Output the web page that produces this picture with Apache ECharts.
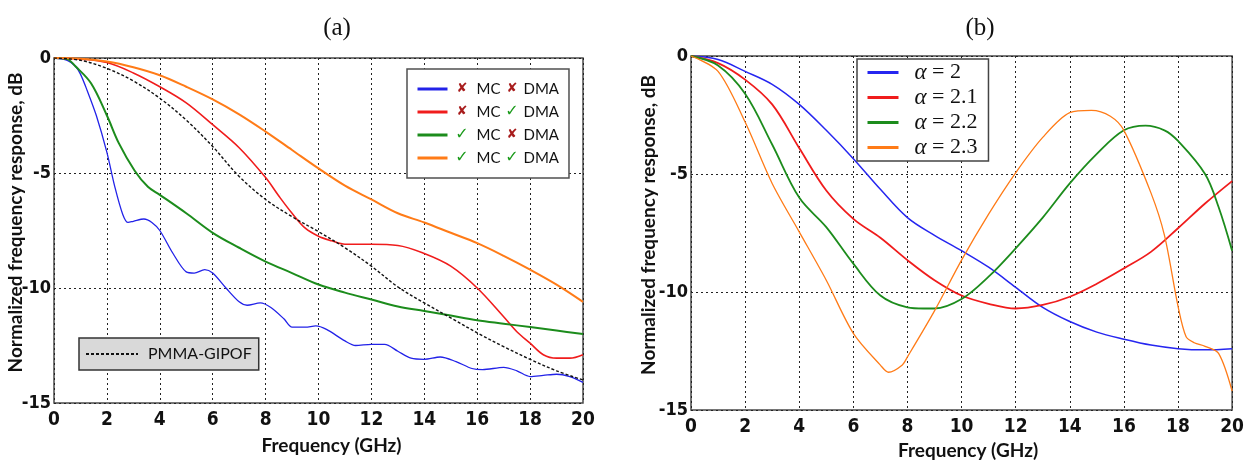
<!DOCTYPE html>
<html>
<head>
<meta charset="utf-8">
<script src="https://cdn.jsdelivr.net/npm/echarts@6/dist/echarts.min.js"></script>
<style>
html,body{margin:0;padding:0;background:#fff;}
#chart{width:1247px;height:465px;}
</style>
</head>
<body>
<div id="chart"></div>
<script>
// ---------- Data: panel (a) ----------
const xTicks = [0,2,4,6,8,10,12,14,16,18,20];
const yTicks = [0,-5,-10,-15];

const aBlueX = [0,0.5,0.8,1.0,1.25,1.6,2.0,2.3,2.6,2.8,3.0,3.4,3.7,4.0,4.5,5.0,5.3,5.7,6.0,6.5,7.0,7.3,7.8,8.2,8.7,9.0,9.5,9.9,10.3,11.0,11.4,12.0,12.5,13.0,13.5,14.0,14.6,15.2,15.8,16.2,17.0,17.5,18.0,18.5,19.0,19.5,20.0];
const aBlueY = [0,-0.1,-0.35,-0.7,-1.4,-2.5,-4.1,-5.6,-6.8,-7.15,-7.1,-7.0,-7.15,-7.5,-8.5,-9.3,-9.35,-9.2,-9.35,-10.0,-10.6,-10.75,-10.65,-10.85,-11.35,-11.7,-11.7,-11.65,-11.8,-12.3,-12.5,-12.45,-12.45,-12.75,-13.05,-13.1,-13.0,-13.2,-13.5,-13.55,-13.45,-13.6,-13.85,-13.8,-13.75,-13.85,-14.1];

const aRedX = [0,1,2,3,4,5,6,7,8,8.5,9,9.5,10,10.5,11,12,13,14,15,16,17,17.5,18,18.5,19,19.5,20];
const aRedY = [0,-0.05,-0.2,-0.65,-1.25,-1.95,-2.9,-3.9,-5.2,-6.0,-6.75,-7.4,-7.75,-7.95,-8.1,-8.1,-8.15,-8.5,-9.05,-10.0,-11.25,-11.9,-12.4,-12.9,-13.05,-13.05,-12.9];

const aGreenX = [0,0.5,0.8,1.4,2.0,2.45,3.05,3.55,4,5,6,7,8,9,10,11,12,13,14,15,16,17,18,19,20];
const aGreenY = [0,-0.05,-0.35,-1.1,-2.5,-3.7,-4.9,-5.6,-5.95,-6.75,-7.6,-8.25,-8.85,-9.35,-9.85,-10.2,-10.5,-10.8,-11.0,-11.2,-11.4,-11.55,-11.7,-11.85,-12.0];

const aOrangeX = [0,1,2,3,4,5,6,7,8,9,10,11,12,13,14,15,16,17,18,19,20];
const aOrangeY = [0,-0.03,-0.15,-0.4,-0.75,-1.25,-1.8,-2.45,-3.2,-4.0,-4.8,-5.55,-6.15,-6.75,-7.15,-7.6,-8.05,-8.6,-9.2,-9.85,-10.6];

const aFiberX = [0,1,2,3,4,5,6,7,8,9,10,11,12,13,14,15,16,17,18,19,20];
const aFiberY = [0,-0.1,-0.45,-1.0,-1.75,-2.7,-3.85,-5.15,-6.15,-6.9,-7.55,-8.25,-9.05,-9.95,-10.65,-11.3,-11.95,-12.55,-13.1,-13.6,-14.0];

const aNames = ['noMC-noDMA','noMC-DMA','MC-noDMA','MC-DMA'];
const aMarks = [['x','x'],['x','v'],['v','x'],['v','v']];
const fiberName = 'PMMA-GIPOF';

// ---------- Data: panel (b) ----------
const bBlueX = [0,1,2,3,4,5,6,7,8,9,10,11,12,13,14,15,16,17,18,19,20];
const bBlueY = [0,-0.15,-0.65,-1.2,-2.05,-3.15,-4.35,-5.65,-6.85,-7.6,-8.25,-8.95,-9.8,-10.65,-11.25,-11.7,-12.0,-12.25,-12.4,-12.45,-12.4];

const bRedX = [0,1,2,3,4,5,6,7,8,9,10,11,12,13,14,15,16,17,18,19,20];
const bRedY = [0,-0.3,-1.0,-2.05,-3.9,-5.7,-6.9,-7.7,-8.65,-9.5,-10.15,-10.5,-10.7,-10.55,-10.2,-9.65,-9.0,-8.3,-7.3,-6.25,-5.3];

const bGreenX = [0,1,2,3,4,5,6,7,8,8.6,9,10,11,12,13,14,15,16,16.8,17.5,18,19,19.5,20];
const bGreenY = [0,-0.4,-1.6,-3.75,-6.0,-7.25,-8.8,-10.15,-10.65,-10.7,-10.7,-10.3,-9.35,-8.15,-6.85,-5.4,-4.15,-3.15,-2.95,-3.15,-3.6,-5.0,-6.4,-8.25];

const bOrangeX = [0,1,2,3,4,5,6,7,7.3,7.8,8,9,10,11,12,13,14,14.8,15.5,16,17,17.5,18,18.3,18.6,19,19.5,20];
const bOrangeY = [0,-0.65,-2.8,-5.4,-7.45,-9.5,-11.75,-13.1,-13.4,-13.1,-12.75,-10.8,-8.65,-6.7,-4.95,-3.45,-2.4,-2.3,-2.55,-3.15,-5.8,-7.6,-10.6,-11.9,-12.15,-12.3,-12.6,-14.2];

const bValues = ['2','2.1','2.2','2.3'];
const bNames = bValues.map(v => 'α = ' + v);

// ---------- Build ----------
const pairs = (xs, ys) => xs.map((x, i) => [x, ys[i]]);

const tickFont = "'Liberation Sans Narrow','DejaVu Sans Condensed',sans-serif";
const nameFont = "Lato,'Open Sans',sans-serif";

function makeX(gridIndex, gap, shift){
  return {
    type:'value', gridIndex, min:0, max:20, interval:2,
    name:'Frequency (GHz)', nameLocation:'middle', nameGap:gap, nameMoveOverlap:false,
    nameTextStyle:{fontFamily:nameFont, fontWeight:'bold', fontSize:19, color:'#111', padding:[0,0,0,shift]},
    axisLine:{show:false}, axisTick:{show:false},
    axisLabel:{fontFamily:tickFont, fontWeight:'bold', fontSize:19, color:'#111', margin:8},
    splitLine:{show:true, lineStyle:{color:'#222', type:[2,3], width:1}}
  };
}
function makeY(gridIndex, gap){
  return {
    type:'value', gridIndex, min:-15, max:0, interval:5,
    name:'Normalized frequency response, dB', nameLocation:'middle', nameGap:gap, nameMoveOverlap:false,
    nameTextStyle:{fontFamily:nameFont, fontWeight:'bold', fontSize:19, color:'#111', padding:[0,0,0,16]},
    axisLine:{show:false}, axisTick:{show:false},
    axisLabel:{fontFamily:tickFont, fontWeight:'bold', fontSize:18, color:'#111', margin:3},
    splitLine:{show:true, lineStyle:{color:'#222', type:[2,3], width:1}}
  };
}

function line(name, xs, ys, color, width, xi, extra){
  return Object.assign({
    name, type:'line', xAxisIndex:xi, yAxisIndex:xi, data:pairs(xs, ys),
    smooth:0.35, symbol:'none', lineStyle:{color, width}, itemStyle:{color},
    z:3, animation:false
  }, extra || {});
}

const markRich = {
  x1:{color:'#a81c1c', fontFamily:'DejaVu Sans', fontSize:13, fontWeight:'bold', width:19, align:'right', lineHeight:20},
  v1:{color:'#1a9a1a', fontFamily:'DejaVu Sans', fontSize:16, width:19, align:'right', lineHeight:20},
  x2:{color:'#a81c1c', fontFamily:'DejaVu Sans', fontSize:13, fontWeight:'bold', width:17, align:'right', lineHeight:20},
  v2:{color:'#1a9a1a', fontFamily:'DejaVu Sans', fontSize:16, width:17, align:'right', lineHeight:20},
  t:{fontFamily:nameFont, fontSize:15, color:'#111', width:30, padding:[0,0,0,2], lineHeight:20},
  d:{fontFamily:nameFont, fontSize:15, color:'#111', padding:[0,0,0,3], lineHeight:20}
};

const noSymbol = {opacity:0};

const option = {
  backgroundColor:'#fff',
  animation:false,
  title:[
    {text:'(a)', left:332, top:11, textAlign:'center',
     textStyle:{fontFamily:"'Liberation Serif','DejaVu Serif',serif", fontWeight:'normal', fontSize:25, color:'#111'}},
    {text:'(b)', left:975, top:11, textAlign:'center',
     textStyle:{fontFamily:"'Liberation Serif','DejaVu Serif',serif", fontWeight:'normal', fontSize:25, color:'#111'}}
  ],
  grid:[
    {left:54, top:58, width:529, height:345, show:true, borderColor:'#4a4a4a', borderWidth:1.5, backgroundColor:'transparent'},
    {left:691, top:56, width:543, height:354, show:true, borderColor:'#4a4a4a', borderWidth:1.5, backgroundColor:'transparent'}
  ],
  xAxis:[makeX(0, 33, 26), makeX(1, 31, 13)],
  yAxis:[makeY(0, 29), makeY(1, 33)],
  legend:[
    {
      data:aNames, orient:'vertical', left:407, top:69,
      itemWidth:30, itemHeight:14, itemGap:3, padding:[10,10,10,9],
      backgroundColor:'#fff', borderColor:'#505050', borderWidth:1.5,
      lineStyle:{width:3}, itemStyle:noSymbol, selectedMode:false,
      textStyle:{fontFamily:nameFont, fontSize:15, color:'#111', lineHeight:20, rich:markRich},
      formatter:function(name){
        const m = aMarks[aNames.indexOf(name)];
        const a = m[0]==='x' ? '{x1|✘}' : '{v1|✓}';
        const b = m[1]==='x' ? '{x2|✘}' : '{v2|✓}';
        return a + '{t|MC}' + b + '{d|DMA}';
      }
    },
    {
      data:[fiberName], orient:'vertical', left:79, top:338,
      itemWidth:52, itemHeight:14, padding:[6,7,6,6],
      backgroundColor:'#d9d9d9', borderColor:'#333', borderWidth:1.5,
      lineStyle:{width:2}, itemStyle:noSymbol, selectedMode:false,
      textStyle:{fontFamily:nameFont, fontSize:16, color:'#111', lineHeight:20,
        rich:{s:{width:5, lineHeight:20}, t:{fontFamily:nameFont, fontSize:16, color:'#111', lineHeight:20}}},
      formatter:function(name){ return '{s|}{t|' + name + '}'; }
    },
    {
      data:bNames, orient:'vertical', left:857, top:59,
      itemWidth:31, itemHeight:14, itemGap:2, padding:[2,11,2,9],
      backgroundColor:'#fff', borderColor:'#444', borderWidth:1.5,
      lineStyle:{width:3}, itemStyle:noSymbol, selectedMode:false,
      textStyle:{fontFamily:"'Liberation Serif',serif", fontSize:22, color:'#111', lineHeight:22,
        rich:{
          s:{width:11, lineHeight:22},
          a:{fontFamily:"'Liberation Serif',serif", fontStyle:'italic', fontSize:23, color:'#111', lineHeight:22},
          t:{fontFamily:"'Liberation Serif',serif", fontSize:22, color:'#111', lineHeight:22}
        }},
      formatter:function(name){ return '{s|}{a|α}{t| = ' + name.split('= ')[1] + '}'; }
    }
  ],
  series:[
    line(fiberName, aFiberX, aFiberY, '#111', 1.4, 0, {lineStyle:{color:'#111', width:1.4, type:[3,2]}, z:4}),
    line(aNames[0], aBlueX, aBlueY, '#2222e8', 1.3, 0, {smooth:0.3}),
    line(aNames[1], aRedX, aRedY, '#f01c1c', 1.6, 0),
    line(aNames[2], aGreenX, aGreenY, '#1c8c1c', 2, 0),
    line(aNames[3], aOrangeX, aOrangeY, '#ff7b17', 2, 0),
    line(bNames[0], bBlueX, bBlueY, '#2626f0', 1.5, 1),
    line(bNames[1], bRedX, bRedY, '#f01c1c', 1.8, 1),
    line(bNames[2], bGreenX, bGreenY, '#1c8c1c', 1.8, 1),
    line(bNames[3], bOrangeX, bOrangeY, '#ff7b17', 1.3, 1, {smooth:0.3})
  ]
};

const chart = echarts.init(document.getElementById('chart'), null, {renderer:'canvas'});
chart.setOption(option);
</script>
</body>
</html>
